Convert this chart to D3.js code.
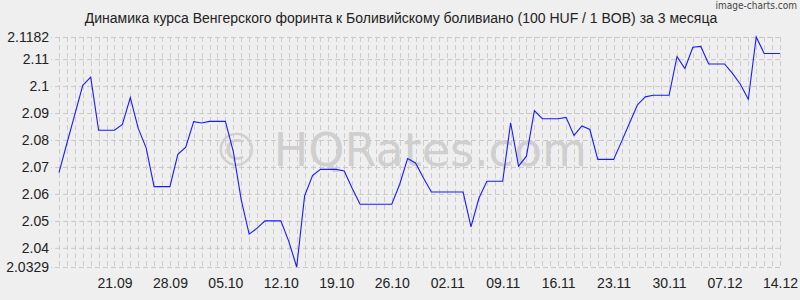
<!DOCTYPE html>
<html>
<head>
<meta charset="utf-8">
<script src="https://cdn.jsdelivr.net/npm/d3@7"></script>
<style>
  html, body { margin: 0; padding: 0; background: #efefef; }
  svg { display: block; font-family: "Liberation Sans", Arial, sans-serif; }
</style>
</head>
<body>
<div id="chart"></div>
<script>
// HUF/BOB rate, 100 HUF per 1 BOB, daily from 14.09.2025
const startDay = new Date(2025, 8, 14);
const rates = [
  2.0679, 2.0788, 2.0895, 2.1003, 2.1033, 2.0836, 2.0836, 2.0836, 2.0858, 2.0957,
  2.0843, 2.0771, 2.0627, 2.0627, 2.0627, 2.0747, 2.0773, 2.0868, 2.0863, 2.0869,
  2.0869, 2.0869, 2.0757, 2.0578, 2.0451, 2.0473, 2.0500, 2.0500, 2.0500, 2.0424,
  2.0329, 2.0593, 2.0668, 2.0691, 2.0691, 2.0691, 2.0685, 2.0621, 2.0562, 2.0562,
  2.0562, 2.0562, 2.0562, 2.0636, 2.0731, 2.0715, 2.0659, 2.0607, 2.0607, 2.0607,
  2.0607, 2.0607, 2.0478, 2.0584, 2.0647, 2.0647, 2.0647, 2.0864, 2.0703, 2.0740,
  2.0909, 2.0879, 2.0879, 2.0879, 2.0884, 2.0817, 2.0852, 2.0839, 2.0728, 2.0728,
  2.0728, 2.0794, 2.0862, 2.0930, 2.0960, 2.0966, 2.0966, 2.0966, 2.1109, 2.1065,
  2.1144, 2.1147, 2.1082, 2.1082, 2.1082, 2.1047, 2.1007, 2.0951, 2.1182, 2.1121,
  2.1121, 2.1121
];
const yTicks = [2.0329, 2.04, 2.05, 2.06, 2.07, 2.08, 2.09, 2.1, 2.11, 2.1182];
const xTickLabels = ['21.09', '28.09', '05.10', '12.10', '19.10', '26.10', '02.11',
  '09.11', '16.11', '23.11', '30.11', '07.12', '14.12'];

const width = 800, height = 300;
const plot = { left: 59, right: 780, top: 37, bottom: 267 };

const data = rates.map((v, i) => ({ date: d3.timeDay.offset(startDay, i), value: v }));
const parseTick = d3.timeParse('%d.%m.%Y');
const xTicks = xTickLabels.map(s => parseTick(s + '.2025'));

const svg = d3.select('#chart').append('svg')
    .attr('width', width)
    .attr('height', height);

svg.append('rect')
    .attr('width', width)
    .attr('height', height)
    .attr('fill', '#efefef');

const x = d3.scaleTime()
    .domain(d3.extent(data, d => d.date))
    .range([plot.left, plot.right]);

const y = d3.scaleLinear()
    .domain([d3.min(yTicks), d3.max(yTicks)])
    .range([plot.bottom, plot.top]);

// vertical grid, one line per day
svg.append('g')
    .selectAll('line')
    .data(data)
    .enter()
    .append('line')
    .attr('x1', d => Math.round(x(d.date)) + 0.5)
    .attr('x2', d => Math.round(x(d.date)) + 0.5)
    .attr('y1', plot.top)
    .attr('y2', plot.bottom)
    .attr('stroke', '#cdcdcd')
    .attr('stroke-dasharray', '5,3');

// horizontal grid + y labels
const yAxis = d3.axisLeft(y)
    .tickValues(yTicks)
    .tickFormat(d => String(d))
    .tickSize(plot.right - plot.left + 8)
    .tickPadding(2);

svg.append('g')
    .attr('transform', `translate(${plot.right}, 0)`)
    .call(yAxis)
    .call(g => g.select('.domain').remove())
    .call(g => g.selectAll('.tick line')
        .attr('stroke', '#c8c8c8')
        .attr('stroke-dasharray', '5,3'))
    .call(g => g.selectAll('.tick text')
        .attr('font-size', 14)
        .attr('fill', '#222'));

// x labels
const xAxis = d3.axisBottom(x)
    .tickValues(xTicks)
    .tickFormat(d3.timeFormat('%d.%m'))
    .tickSize(0)
    .tickPadding(11);

svg.append('g')
    .attr('transform', `translate(0, ${plot.bottom})`)
    .call(xAxis)
    .call(g => g.select('.domain').remove())
    .call(g => g.selectAll('.tick text')
        .attr('font-size', 14)
        .attr('fill', '#222'));

// watermark
svg.append('text')
    .attr('x', 400)
    .attr('y', 166)
    .attr('text-anchor', 'middle')
    .attr('font-size', 46)
    .attr('font-family', '"DejaVu Sans", sans-serif')
    .attr('fill', '#cfcfcf')
    .text('© HQRates.com');

// rate line
const line = d3.line()
    .x(d => x(d.date))
    .y(d => y(d.value));

svg.append('path')
    .datum(data)
    .attr('d', line)
    .attr('fill', 'none')
    .attr('stroke', '#1a1aff')
    .attr('stroke-width', 1.1);

// title
svg.append('text')
    .attr('x', 401)
    .attr('y', 23)
    .attr('text-anchor', 'middle')
    .attr('font-size', 14)
    .attr('fill', '#222')
    .text('Динамика курса Венгерского форинта к Боливийскому боливиано (100 HUF / 1 BOB) за 3 месяца');

svg.append('text')
    .attr('x', 797)
    .attr('y', 9)
    .attr('text-anchor', 'end')
    .attr('font-size', 10)
    .attr('font-family', '"DejaVu Sans Condensed", "Liberation Sans Narrow", sans-serif')
    .attr('fill', '#444')
    .text('image-charts.com');
</script>
</body>
</html>
